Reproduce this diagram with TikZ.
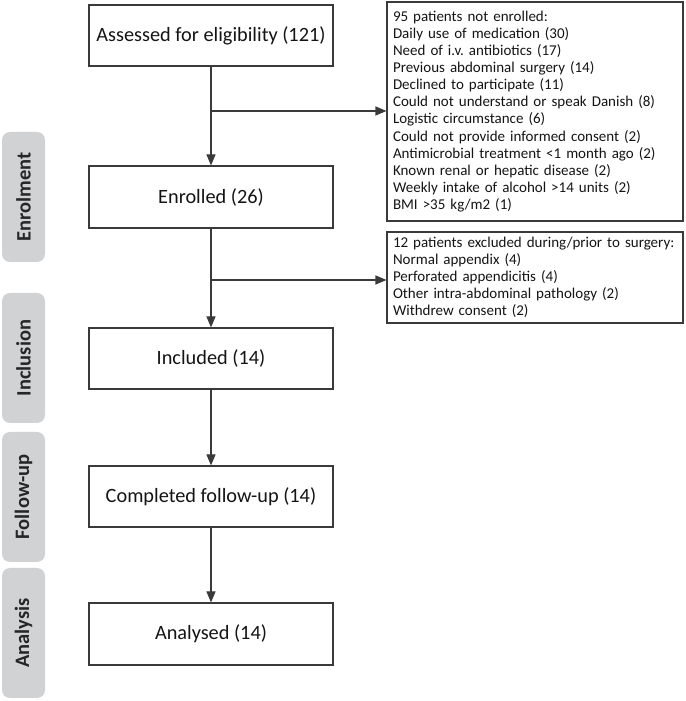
\documentclass[tikz,border=0pt]{standalone}
\usepackage{fontspec}
\setmainfont{Carlito}
\usetikzlibrary{arrows.meta}
\definecolor{lbl}{HTML}{D1D2D4}
\definecolor{edge}{HTML}{3A3A3A}
\frenchspacing
\begin{document}
\begin{tikzpicture}[x=1pt,y=1pt,
  mainbox/.style={draw=edge,line width=1.1pt,minimum width=244pt,minimum height=61pt,inner sep=0pt,
    font=\fontsize{20.3}{24}\selectfont,text=black!92},
  sidebox/.style={draw=edge,line width=1.1pt,minimum width=296pt,text width=284pt,inner xsep=6pt,inner ysep=0pt,
    align=left,font=\fontsize{15}{17.1}\selectfont,text=black!92},
  stage/.style={fill=lbl,rounded corners=8pt,minimum width=43pt,minimum height=130pt,inner sep=0pt},
  stagetext/.style={rotate=90,font=\bfseries\fontsize{20.5}{24}\selectfont,text=black!85},
  arr/.style={draw=edge,line width=1.1pt,-{Triangle[length=11pt,width=9pt]}}]
\useasboundingbox (0,0) rectangle (685,701);
% stage labels
\node[stage] (s1) at (23.5,504) {};
\node[stagetext] (t1) at (s1) {Enrolment};
\node[stage] (s2) at (23.5,343) {};
\node[stagetext] (t2) at (s2) {Inclusion};
\node[stage] (s3) at (23.5,204) {};
\node[stagetext] (t3) at (s3) {Follow-up};
\node[stage] (s4) at (23.5,68) {};
\node[stagetext] (t4) at (s4) {Analysis};
% main boxes
\node[mainbox] (b1) at (211,665.5) {Assessed for eligibility (121)};
\node[mainbox,minimum height=62pt] (b2) at (211,504) {Enrolled (26)};
\node[mainbox] (b3) at (211,342.5) {Included (14)};
\node[mainbox] (b4) at (211,204.5) {Completed follow-up (14)};
\node[mainbox,minimum height=62pt] (b5) at (211,67) {Analysed (14)};
% side boxes
\node[sidebox,minimum height=219pt] (x1) at (535,589.5) {95 patients not enrolled:\\
Daily use of medication (30)\\
Need of i.v. antibiotics (17)\\
Previous abdominal surgery (14)\\
Declined to participate (11)\\
Could not understand or speak Danish (8)\\
Logistic circumstance (6)\\
Could not provide informed consent (2)\\
Antimicrobial treatment <1 month ago (2)\\
Known renal or hepatic disease (2)\\
Weekly intake of alcohol >14 units (2)\\
BMI >35 kg/m2 (1)};
\node[sidebox,minimum height=91pt] (x2) at (535,423.5) {12 patients excluded during/prior to surgery:\\
Normal appendix (4)\\
Perforated appendicitis (4)\\
Other intra-abdominal pathology (2)\\
Withdrew consent (2)};
% connectors
\draw[arr] (b1) -- (b2);
\draw[arr] (b1 |- 0,590) coordinate (j1) -- (x1.west |- j1);
\draw[arr] (b2) -- (b3);
\draw[arr] (b2.south |- 0,421) coordinate (j2) -- (x2.west |- j2);
\draw[arr] (b3) -- (b4);
\draw[arr] (b4) -- (b5);
\end{tikzpicture}
\end{document}
